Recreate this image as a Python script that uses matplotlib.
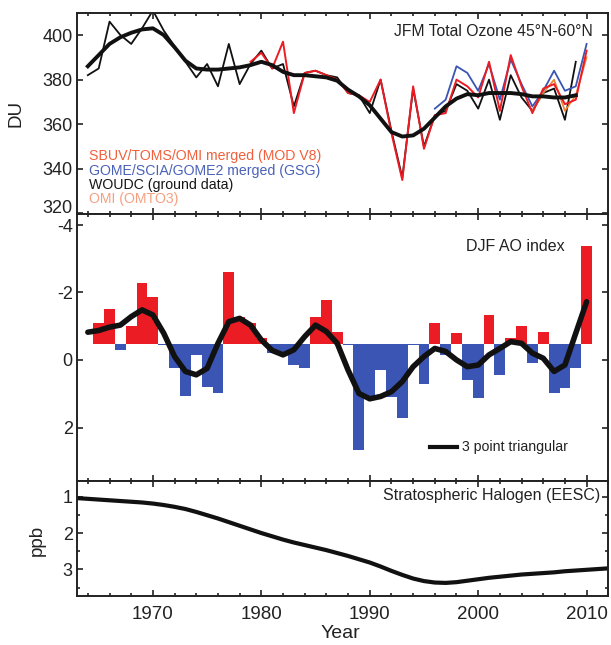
import numpy as np
import matplotlib
matplotlib.use("Agg")
import matplotlib.pyplot as plt
from matplotlib.ticker import MultipleLocator, FixedLocator, FuncFormatter

plt.rcParams['font.family'] = ['Liberation Sans', 'DejaVu Sans']
plt.rcParams['axes.unicode_minus'] = False

# ---------------- data ----------------
# Top panel: JFM total ozone 45N-60N (DU)
woudc_years = list(range(1964, 2010))
woudc_du = [382, 385, 406, 400, 396, 403, 411, 402, 395, 388,
            381, 387, 377, 396, 378, 387, 393, 385, 387, 368,
            383, 384, 382, 381, 374, 373, 365, 380, 357, 336,
            376, 350, 364, 366, 378, 375, 367, 380, 362, 382,
            372, 366, 374, 376, 362, 388]

sbuv_years = list(range(1979, 2011))
sbuv_du = [388, 392, 385, 397, 365, 383, 384, 382, 380, 374,
           373, 370, 380, 356, 335, 377, 349, 364, 365, 380,
           377, 372, 388, 366, 391, 377, 365, 376, 378, 369,
           371, 393]

gsg_years = list(range(1996, 2011))
gsg_du = [367, 371, 386, 383, 375, 387, 371, 389, 378, 368,
          375, 384, 375, 377, 396]

omi_years = list(range(2005, 2011))
omi_du = [366, 374, 380, 366, 373, 390]

smooth_years = list(range(1964, 2010))
smooth_du = [386, 391, 396, 399, 401, 402.5, 403, 400, 394.5, 388.5,
             385, 384.5, 384.5, 385, 385.5, 386.5, 388, 386.5, 383.5, 382,
             382, 381.5, 381, 379.5, 375.5, 372.5, 368.5, 362.5, 356.5, 354.5,
             355, 358, 363, 368, 371.5, 373.5, 373, 374, 374, 374,
             373.5, 372.5, 372.5, 372, 372, 373]

# Middle panel: DJF AO index
ao_years = list(range(1965, 2011))
ao_vals = [-1.1, -1.5, -0.3, -1.0, -2.27, -1.87, -0.45, 0.25, 1.06, -0.15,
           0.79, 0.99, -2.61, -1.28, -1.1, -0.65, -0.2, -0.2, 0.15, 0.25,
           -1.28, -1.78, -0.84, -0.45, 2.67, 1.15, 0.3, 1.09, 1.73, -0.45,
           0.72, -1.08, -0.15, -0.79, 0.6, 1.12, -1.32, 0.44, -0.64, -0.99,
           0.1, -0.82, 0.97, 0.84, 0.25, -3.38]
ao_baseline = -0.47

tri_years = list(range(1964, 2011))
tri_vals = [-0.82, -0.87, -0.97, -1.03, -1.28, -1.48, -1.33, -0.79, -0.1, 0.34,
            0.44, 0.25, -0.49, -1.13, -1.23, -1.03, -0.59, -0.28, -0.15, -0.3,
            -0.69, -1.03, -0.84, -0.49, 0.3, 0.99, 1.15, 1.08, 0.94, 0.64,
            0.2, -0.1, -0.34, -0.25, 0.0, 0.2, 0.15, -0.15, -0.34, -0.54,
            -0.49, -0.2, -0.05, 0.34, 0.15, -0.79, -1.72]

# Bottom panel: EESC (ppb)
eesc_years = list(range(1963, 2013))
eesc_ppb = [1.04, 1.06, 1.08, 1.10, 1.12, 1.14, 1.16, 1.19, 1.23, 1.28,
            1.34, 1.42, 1.51, 1.60, 1.70, 1.80, 1.90, 2.00, 2.09, 2.18,
            2.26, 2.33, 2.40, 2.47, 2.55, 2.63, 2.72, 2.81, 2.92, 3.04,
            3.15, 3.25, 3.32, 3.36, 3.37, 3.35, 3.31, 3.27, 3.23, 3.20,
            3.17, 3.14, 3.12, 3.10, 3.08, 3.05, 3.03, 3.01, 2.99, 2.97]

xticks = [1970, 1980, 1990, 2000, 2010]
du_ticks = [320, 340, 360, 380, 400]
ao_ticks = [-4, -2, 0, 2]
ppb_ticks = [1, 2, 3]

# ---------------- figure ----------------
W, H = 611, 645
fig = plt.figure(figsize=(W / 100, H / 100), dpi=100)

L, R = 77, 608.3
def axes_rect(top, bottom):
    return [L / W, 1 - bottom / H, (R - L) / W, (bottom - top) / H]

ax1 = fig.add_axes(axes_rect(12.7, 213.5))
ax2 = fig.add_axes(axes_rect(213.5, 481))
ax3 = fig.add_axes(axes_rect(481, 596))

RED = '#ec1c24'
BLUE = '#3a55b4'
ORANGE = '#f08030'
INK = '#222222'
TICKFS = 13

for ax in (ax1, ax2, ax3):
    ax.set_xlim(1963, 2012)
    ax.xaxis.set_major_locator(FixedLocator(xticks))
    ax.xaxis.set_minor_locator(MultipleLocator(2))
    ax.tick_params(which='both', direction='in', top=True, right=True,
                   width=1.2, colors=INK, labelsize=TICKFS)
    ax.tick_params(which='major', length=4.5)
    ax.tick_params(which='minor', length=2.5)
    ax.tick_params(axis='y', pad=3)
    ax.tick_params(axis='x', pad=7.5, labelsize=13.5)
    for s in ax.spines.values():
        s.set_linewidth(1.4)
        s.set_color(INK)

# Top panel
ax1.plot(woudc_years, woudc_du, color='#111111', lw=1.3)
ax1.plot(gsg_years, gsg_du, color=BLUE, lw=1.3)
ax1.plot(omi_years, omi_du, color=ORANGE, lw=1.2)
ax1.plot(sbuv_years, sbuv_du, color=RED, lw=1.4)
ax1.plot(smooth_years, smooth_du, color='#111111', lw=2.8)
ax1.set_ylim(320, 410)
ax1.yaxis.set_major_locator(FixedLocator(du_ticks))
ax1.yaxis.set_major_formatter(FuncFormatter(
    lambda v, p: '' if v == du_ticks[0] else f'{v:g}'))
ax1.annotate(f'{du_ticks[0]:g}', xy=(0, du_ticks[0]),
             xycoords=('axes fraction', 'data'), xytext=(-3, 3.5),
             textcoords='offset points', ha='right', va='center',
             fontsize=TICKFS, color=INK)
ax1.tick_params(labelbottom=False)
ax1.text(0.971, 0.904, 'JFM Total Ozone 45°N-60°N', transform=ax1.transAxes,
         ha='right', va='center', fontsize=11.3, color=INK)
leg_items = [('SBUV/TOMS/OMI merged (MOD V8)', '#f0603c'),
             ('GOME/SCIA/GOME2 merged (GSG)', '#4a62b8'),
             ('WOUDC (ground data)', '#151515'),
             ('OMI (OMTO3)', '#f5a080')]
for (txt, col), yy in zip(leg_items, [0.286, 0.210, 0.142, 0.072]):
    ax1.text(0.0226, yy, txt, transform=ax1.transAxes, ha='left', va='center',
             fontsize=10.2, color=col)

# Middle panel
bar_colors = [RED if v < ao_baseline else BLUE for v in ao_vals]
heights = [v - ao_baseline for v in ao_vals]
ax2.bar(ao_years, heights, bottom=ao_baseline, width=1.0, color=bar_colors,
        edgecolor='none', linewidth=0)
ax2.plot(tri_years, tri_vals, color='#111111', lw=4.0, solid_capstyle='round')
ax2.set_ylim(3.58, -4.33)
ax2.yaxis.set_major_locator(FixedLocator(ao_ticks))
ax2.yaxis.set_major_formatter(FuncFormatter(
    lambda v, p: '' if v == ao_ticks[0] else f'{v:g}'))
ax2.annotate(f'{ao_ticks[0]:g}', xy=(0, ao_ticks[0]),
             xycoords=('axes fraction', 'data'), xytext=(-3, -2),
             textcoords='offset points', ha='right', va='center',
             fontsize=TICKFS, color=INK)
ax2.tick_params(labelbottom=False)
ax2.text(0.918, 0.875, 'DJF AO index', transform=ax2.transAxes,
         ha='right', va='center', fontsize=11.5, color=INK)
ax2.plot([0.664, 0.715], [0.127, 0.127], transform=ax2.transAxes,
         color='#111111', lw=3.0)
ax2.text(0.725, 0.127, '3 point triangular', transform=ax2.transAxes,
         ha='left', va='center', fontsize=10.2, color=INK)

# Bottom panel
ax3.plot(eesc_years, eesc_ppb, color='#111111', lw=3.0)
ax3.set_ylim(3.73, 0.57)
ax3.yaxis.set_major_locator(FixedLocator(ppb_ticks))
ax3.yaxis.set_minor_locator(FixedLocator([1.5, 2.5, 3.5]))
ax3.text(0.984, 0.878, 'Stratospheric Halogen (EESC)', transform=ax3.transAxes,
         ha='right', va='center', fontsize=11.5, color=INK)

# Axis labels
fig.text(16 / W, 1 - 113 / H, 'DU', rotation=90, ha='center', va='center',
         fontsize=13.5, color=INK)
fig.text(37 / W, 1 - 540 / H, 'ppb', rotation=90, ha='center', va='center',
         fontsize=13.5, color=INK)
fig.text(340 / W, 1 - 633 / H, 'Year', ha='center', va='center',
         fontsize=14, color=INK)

fig.savefig('out.png', dpi=100)
